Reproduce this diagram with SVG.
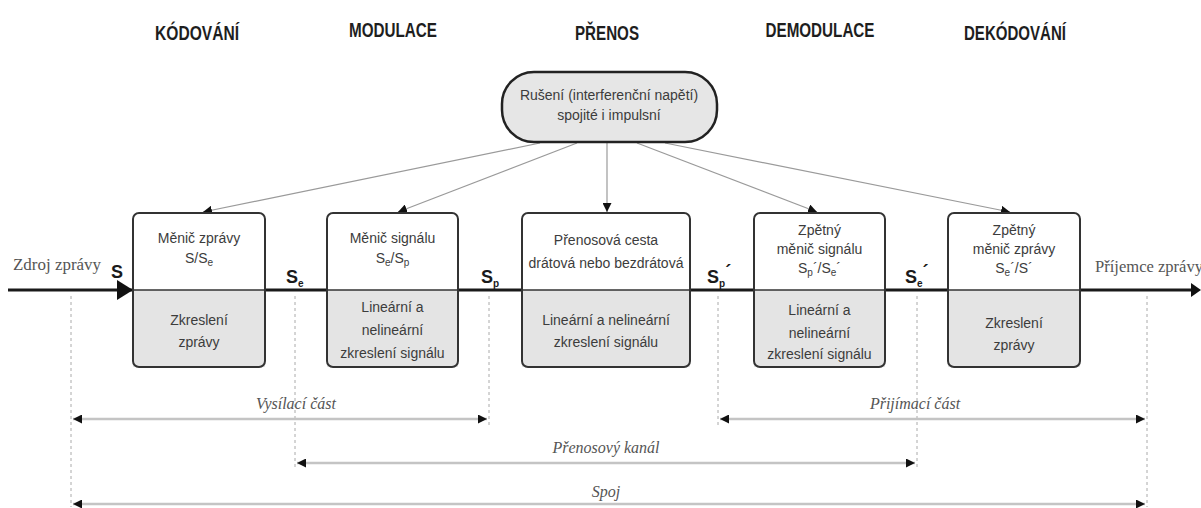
<svg xmlns="http://www.w3.org/2000/svg" width="1201" height="508" viewBox="0 0 1201 508">
<defs>
<marker id="ah" viewBox="0 0 10 10" refX="10" refY="5" markerWidth="9" markerHeight="9" markerUnits="userSpaceOnUse" orient="auto"><path d="M0,0 L10,5 L0,10 z" fill="#111"/></marker>
<marker id="dh" viewBox="0 0 10 10" refX="10" refY="5" markerWidth="9" markerHeight="9" markerUnits="userSpaceOnUse" orient="auto-start-reverse"><path d="M0,0 L10,5 L0,10 z" fill="#111"/></marker>
<style>
.hd{font-family:"Liberation Sans",Arial,sans-serif;font-weight:bold;font-size:20px;fill:#1e1e1e;text-anchor:middle}
.bt{font-family:"Liberation Sans",Arial,sans-serif;font-size:14px;fill:#3c3c3c;text-anchor:middle}
.sl{font-family:"Liberation Sans",Arial,sans-serif;font-weight:bold;font-size:18px;fill:#1a1a1a}
.sub{font-size:10px}
.ser{font-family:"Liberation Serif","Times New Roman",serif;font-size:16px;fill:#555}
.it{font-family:"Liberation Serif","Times New Roman",serif;font-style:italic;font-size:16px;fill:#555;text-anchor:middle}
.top{fill:#fff;stroke:none}
.bot{fill:#e4e4e4;stroke:none}
.frame{fill:none;stroke:#333;stroke-width:2}
.div{stroke:#333;stroke-width:1.5}
.noise{stroke:#9a9a9a;stroke-width:1.2;fill:none}
.dim{stroke:#c4c4c4;stroke-width:2.5;fill:none}
.dot{stroke:#aaa;stroke-width:1;stroke-dasharray:3 3;fill:none}
</style>
</defs>
<rect width="1201" height="508" fill="#fff"/>

<g id="headers">
<text class="hd" x="197" y="40" textLength="84" lengthAdjust="spacingAndGlyphs">KÓDOVÁNÍ</text>
<text class="hd" x="393" y="37" textLength="88" lengthAdjust="spacingAndGlyphs">MODULACE</text>
<text class="hd" x="607" y="40" textLength="64" lengthAdjust="spacingAndGlyphs">PŘENOS</text>
<text class="hd" x="820" y="37" textLength="109" lengthAdjust="spacingAndGlyphs">DEMODULACE</text>
<text class="hd" x="1015" y="40" textLength="102" lengthAdjust="spacingAndGlyphs">DEKÓDOVÁNÍ</text>
</g>

<g id="dotted">
<line class="dot" x1="71" y1="296" x2="71" y2="507"/>
<line class="dot" x1="295" y1="296" x2="295" y2="470"/>
<line class="dot" x1="489" y1="296" x2="489" y2="426"/>
<line class="dot" x1="718" y1="296" x2="718" y2="426"/>
<line class="dot" x1="917" y1="296" x2="917" y2="470"/>
<line class="dot" x1="1147" y1="296" x2="1147" y2="507"/>
</g>

<g id="connectors">
<line x1="8" y1="290" x2="1193" y2="290" stroke="#1a1a1a" stroke-width="3"/>
<polygon points="1191,283 1201,290 1191,297" fill="#111"/>
<polygon points="117,280 133,290 117,300" fill="#111"/>
<line class="noise" x1="540" y1="143" x2="203" y2="212" marker-end="url(#ah)"/>
<line class="noise" x1="577" y1="143" x2="398" y2="212" marker-end="url(#ah)"/>
<line class="noise" x1="607" y1="143" x2="607" y2="212" marker-end="url(#ah)"/>
<line class="noise" x1="637" y1="143" x2="817" y2="212" marker-end="url(#ah)"/>
<line class="noise" x1="665" y1="143" x2="1010" y2="212" marker-end="url(#ah)"/>
<line class="dim" x1="73" y1="419" x2="487" y2="419" marker-start="url(#dh)" marker-end="url(#dh)"/>
<line class="dim" x1="720" y1="419" x2="1145" y2="419" marker-start="url(#dh)" marker-end="url(#dh)"/>
<line class="dim" x1="297" y1="463" x2="915" y2="463" marker-start="url(#dh)" marker-end="url(#dh)"/>
<line class="dim" x1="73" y1="504" x2="1145" y2="504" marker-start="url(#dh)" marker-end="url(#dh)"/>
</g>

<g id="noise">
<rect x="502" y="72" width="215" height="70" rx="32" fill="#e6e6e6" stroke="#222" stroke-width="2.5"/>
<text class="bt" x="609" y="100">Rušení (interferenční napětí)</text>
<text class="bt" x="609" y="120">spojité i impulsní</text>
</g>

<g id="box1">
<rect class="top" x="133" y="213" width="132" height="77"/>
<rect class="bot" x="133" y="290" width="132" height="77"/>
<line class="div" x1="133" y1="290" x2="265" y2="290"/>
<rect class="frame" x="133" y="213" width="132" height="154" rx="6"/>
<text class="bt" x="199" y="243">Měnič zprávy</text>
<text class="bt" x="199" y="263">S/S<tspan class="sub" dy="3">e</tspan></text>
<text class="bt" x="199" y="325">Zkreslení</text>
<text class="bt" x="199" y="347">zprávy</text>
</g>

<g id="box2">
<rect class="top" x="327" y="213" width="131" height="77"/>
<rect class="bot" x="327" y="290" width="131" height="77"/>
<line class="div" x1="327" y1="290" x2="458" y2="290"/>
<rect class="frame" x="327" y="213" width="131" height="154" rx="6"/>
<text class="bt" x="392.5" y="243">Měnič signálu</text>
<text class="bt" x="392.5" y="263">S<tspan class="sub" dy="3">e</tspan><tspan dy="-3">/S</tspan><tspan class="sub" dy="3">p</tspan></text>
<text class="bt" x="392.5" y="312">Lineární a</text>
<text class="bt" x="392.5" y="335">nelineární</text>
<text class="bt" x="392.5" y="358">zkreslení signálu</text>
</g>

<g id="box3">
<rect class="top" x="522" y="213" width="168" height="77"/>
<rect class="bot" x="522" y="290" width="168" height="77"/>
<line class="div" x1="522" y1="290" x2="690" y2="290"/>
<rect class="frame" x="522" y="213" width="168" height="154" rx="6"/>
<text class="bt" x="606" y="245">Přenosová cesta</text>
<text class="bt" x="606" y="268">drátová nebo bezdrátová</text>
<text class="bt" x="606" y="325">Lineární a nelineární</text>
<text class="bt" x="606" y="347">zkreslení signálu</text>
</g>

<g id="box4">
<rect class="top" x="754" y="213" width="131" height="77"/>
<rect class="bot" x="754" y="290" width="131" height="77"/>
<line class="div" x1="754" y1="290" x2="885" y2="290"/>
<rect class="frame" x="754" y="213" width="131" height="154" rx="6"/>
<text class="bt" x="819.5" y="235">Zpětný</text>
<text class="bt" x="819.5" y="254">měnič signálu</text>
<text class="bt" x="819.5" y="273">S<tspan class="sub" dy="3">p</tspan><tspan dy="-3">´/S</tspan><tspan class="sub" dy="3">e</tspan><tspan dy="-3">´</tspan></text>
<text class="bt" x="819.5" y="315">Lineární a</text>
<text class="bt" x="819.5" y="338">nelineární</text>
<text class="bt" x="819.5" y="359">zkreslení signálu</text>
</g>

<g id="box5">
<rect class="top" x="948" y="213" width="132" height="77"/>
<rect class="bot" x="948" y="290" width="132" height="77"/>
<line class="div" x1="948" y1="290" x2="1080" y2="290"/>
<rect class="frame" x="948" y="213" width="132" height="154" rx="6"/>
<text class="bt" x="1014" y="235">Zpětný</text>
<text class="bt" x="1014" y="254">měnič zprávy</text>
<text class="bt" x="1014" y="273">S<tspan class="sub" dy="3">e</tspan><tspan dy="-3">´/S´</tspan></text>
<text class="bt" x="1014" y="328">Zkreslení</text>
<text class="bt" x="1014" y="350">zprávy</text>
</g>

<g id="signal-labels">
<text class="ser" x="13" y="270" textLength="88" lengthAdjust="spacingAndGlyphs">Zdroj zprávy</text>
<text class="ser" x="1095" y="272" textLength="108" lengthAdjust="spacingAndGlyphs">Příjemce zprávy</text>
<text class="sl" x="111" y="278">S</text>
<text class="sl" x="286" y="283">S<tspan class="sub" dy="4">e</tspan></text>
<text class="sl" x="481" y="283">S<tspan class="sub" dy="4">p</tspan></text>
<text class="sl" x="707" y="283">S<tspan class="sub" dy="4">p</tspan><tspan dy="-9">´</tspan></text>
<text class="sl" x="905" y="283">S<tspan class="sub" dy="4">e</tspan><tspan dy="-9">´</tspan></text>
</g>

<g id="dimension-labels">
<text class="it" x="296" y="409">Vysílací část</text>
<text class="it" x="915" y="409">Přijímací část</text>
<text class="it" x="606" y="453">Přenosový kanál</text>
<text class="it" x="606" y="497">Spoj</text>
</g>
</svg>
